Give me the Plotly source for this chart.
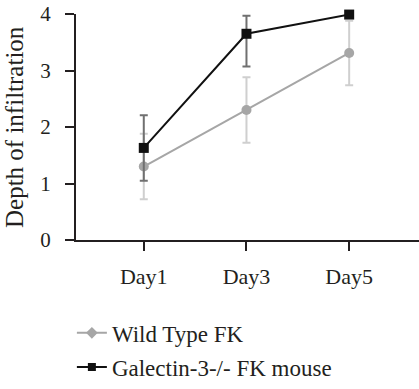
import plotly.graph_objects as go

days = ["Day1", "Day3", "Day5"]
wt_mean = [1.30, 2.30, 3.31]
wt_err_plus = [0.58, 0.58, 0.57]
wt_err_minus = [0.58, 0.58, 0.57]
ko_mean = [1.63, 3.65, 3.99]
ko_err_plus = [0.58, 0.32, 0.0]
ko_err_minus = [0.58, 0.58, 0.0]
yticks = [0, 1, 2, 3, 4]
y_title = "Depth of infiltration"

FONT = "Liberation Serif"
TXT = "#231f20"
x_idx = list(range(len(days)))

fig = go.Figure()
fig.add_trace(go.Scatter(
    x=x_idx, y=wt_mean, mode="lines+markers", name="Wild Type FK",
    line=dict(color="#a6a6a6", width=2),
    marker=dict(symbol="circle", size=10, color="#a6a6a6"),
    error_y=dict(type="data", symmetric=False, array=wt_err_plus, arrayminus=wt_err_minus,
                 color="#cfcfcf", thickness=2, width=4),
    showlegend=False, cliponaxis=False))
fig.add_trace(go.Scatter(
    x=x_idx, y=ko_mean, mode="lines+markers", name="Galectin-3-/- FK mouse",
    line=dict(color="#111111", width=2),
    marker=dict(symbol="square", size=10, color="#111111"),
    error_y=dict(type="data", symmetric=False, array=ko_err_plus, arrayminus=ko_err_minus,
                 color="#707070", thickness=2, width=4),
    showlegend=False, cliponaxis=False))
# legend entries
fig.add_trace(go.Scatter(
    x=[None], y=[None], mode="lines+markers", name="Wild Type FK",
    line=dict(color="#a6a6a6", width=2),
    marker=dict(symbol="diamond", size=9, color="#a6a6a6"), legend="legend"))
fig.add_trace(go.Scatter(
    x=[None], y=[None], mode="lines+markers", name="Galectin-3-/- FK mouse",
    line=dict(color="#111111", width=2),
    marker=dict(symbol="square", size=8, color="#111111"), legend="legend2"))

fig.update_layout(
    width=419, height=389,
    margin=dict(l=76, r=0, t=14, b=144),
    paper_bgcolor="white", plot_bgcolor="white",
    font=dict(family=FONT, size=17, color=TXT),
    xaxis=dict(range=[-0.66, 2.68], tickvals=x_idx, ticktext=days, automargin=False,
               showline=True, linecolor=TXT, linewidth=2, ticks="outside",
               ticklen=9, tickwidth=2, tickcolor=TXT, showgrid=False, zeroline=False,
               ticklabelstandoff=7, tickfont=dict(size=22), fixedrange=True),
    yaxis=dict(range=[0, 4], tickvals=yticks, showline=True, linecolor=TXT, linewidth=2,
               automargin=False, ticklabelstandoff=10,
               ticks="outside", ticklen=9, tickwidth=2, tickcolor=TXT, showgrid=False,
               zeroline=False, tickfont=dict(size=21)),
    legend=dict(x=-0.012, y=-0.316, xanchor="left", yanchor="top", bgcolor="rgba(0,0,0,0)",
                font=dict(size=23)),
    legend2=dict(x=-0.012, y=-0.467, xanchor="left", yanchor="top", bgcolor="rgba(0,0,0,0)",
                 font=dict(size=23)),
    annotations=[dict(text=y_title, xref="paper", yref="paper", x=-62/343, y=0.5,
                      xanchor="center", yanchor="middle", textangle=-90, showarrow=False,
                      font=dict(size=25, color=TXT))],
    shapes=[dict(type="line", xref="paper", yref="paper", x0=-9/343, x1=0, y0=0, y1=0,
                 line=dict(color=TXT, width=2))],
)

fig.write_html("out.html", config={"displayModeBar": False},
               post_script="document.body.style.margin='0';")
